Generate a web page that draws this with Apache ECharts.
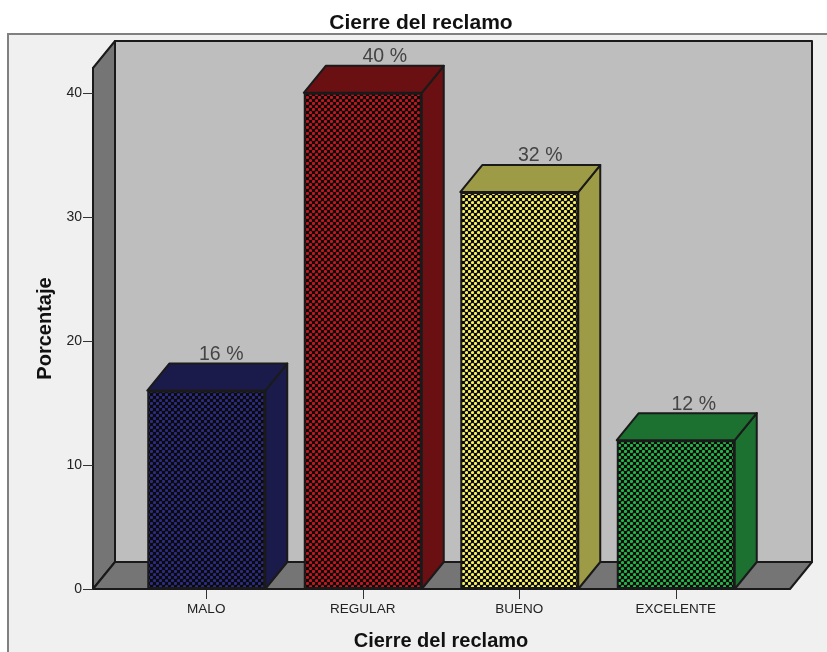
<!DOCTYPE html>
<html>
<head>
<meta charset="utf-8">
<style>html,body{margin:0;padding:0;background:#fff}#c{width:827px;height:652px}</style>
<script src="https://cdn.jsdelivr.net/npm/echarts@6/dist/echarts.min.js"></script>
</head>
<body>
<div id="c"></div>
<script>
const categories = ['MALO', 'REGULAR', 'BUENO', 'EXCELENTE'];
const percentages = [16, 40, 32, 12];
const yTicks = [0, 10, 20, 30, 40];
const dotColors = ['#2b2b85', '#c4161e', '#f8f058', '#24b548'];
const faceColors = ['#1a1a4b', '#6a0f12', '#9d9b46', '#1c7030'];

// Depth of the extruded scene, in pixels
const DX = 22, DY = -27, BAR_W = 118;
const LEFT = 93, RIGHT = 790, BASE = 589, TOP = 68;
const LINE = '#1a1a1a', WALL = '#bebebe', SIDE = '#757575';
const LABEL_SHIFT = [15, 22, 21, 18];

// Lattice of round dots on black, tiled over the front of each bar
function dotTile(color) {
  const s = 6, cv = document.createElement('canvas');
  cv.width = cv.height = s;
  const g = cv.getContext('2d');
  g.fillStyle = '#0a0a0a';
  g.fillRect(0, 0, s, s);
  g.fillStyle = color;
  [[1.5, 1.5], [4.5, 4.5]].forEach(([x, y]) => {
    g.beginPath();
    g.arc(x, y, 1.6, 0, Math.PI * 2);
    g.fill();
  });
  return { image: cv, repeat: 'repeat' };
}

const poly = (points, fill, z) => ({
  type: 'polygon', z,
  shape: { points },
  style: { fill, stroke: LINE, lineWidth: 2, lineJoin: 'round' }
});

const chart = echarts.init(document.getElementById('c'), null, { renderer: 'canvas' });
chart.setOption({
  animation: false,
  backgroundColor: '#ffffff',
  title: {
    text: 'Cierre del reclamo', left: 416, top: 8, textAlign: 'center',
    textStyle: { fontFamily: 'Liberation Sans', fontSize: 21, fontWeight: 'bold', color: '#111' }
  },
  grid: { left: 128, right: 73, top: TOP, bottom: 652 - BASE, outerBoundsMode: 'none' },
  graphic: [
    { type: 'rect', z: -5, shape: { x: 8, y: 34, width: 830, height: 630 },
      style: { fill: '#f0f0f0', stroke: '#808080', lineWidth: 2 } },
    poly([[LEFT + DX, TOP + DY], [RIGHT + DX, TOP + DY], [RIGHT + DX, BASE + DY], [LEFT + DX, BASE + DY]], WALL, -4),
    poly([[LEFT, TOP], [LEFT + DX, TOP + DY], [LEFT + DX, BASE + DY], [LEFT, BASE]], SIDE, -3),
    poly([[LEFT, BASE], [LEFT + DX, BASE + DY], [RIGHT + DX, BASE + DY], [RIGHT, BASE]], SIDE, -3)
  ],
  xAxis: {
    type: 'category', data: categories,
    axisLine: { show: false },
    axisTick: { show: true, alignWithLabel: true, length: 10, lineStyle: { color: '#333', width: 1 } },
    axisLabel: { fontFamily: 'Liberation Sans', fontSize: 13.5, color: '#222', margin: 13 },
    name: 'Cierre del reclamo', nameLocation: 'middle', nameGap: 42,
    nameTextStyle: { fontFamily: 'Liberation Sans', fontSize: 20, fontWeight: 'bold', color: '#111' }
  },
  yAxis: {
    type: 'value', min: 0, max: 42, interval: 10, offset: 35,
    axisLine: { show: true, lineStyle: { color: LINE, width: 2 } },
    axisTick: { show: true, length: 10, customValues: yTicks, lineStyle: { color: '#333', width: 1 } },
    axisLabel: { fontFamily: 'Liberation Sans', fontSize: 14, color: '#222', margin: 11, customValues: yTicks },
    splitLine: { show: false },
    name: 'Porcentaje', nameLocation: 'middle', nameGap: 38,
    nameTextStyle: { fontFamily: 'Liberation Sans', fontSize: 20, fontWeight: 'bold', color: '#111' }
  },
  series: [
    {
      // Top and right faces of each bar
      type: 'custom', z: 2, clip: false, silent: true,
      data: percentages.map((v, i) => [i, v]),
      encode: { x: 0, y: 1 },
      renderItem(params, api) {
        const i = api.value(0);
        const [cx, top] = api.coord([i, api.value(1)]);
        const [, base] = api.coord([i, 0]);
        const l = cx - BAR_W / 2, r = cx + BAR_W / 2, c = faceColors[i];
        return {
          type: 'group',
          children: [
            poly([[r, top], [r + DX, top + DY], [r + DX, base + DY], [r, base]], c),
            poly([[l, top], [l + DX, top + DY], [r + DX, top + DY], [r, top]], c)
          ]
        };
      }
    },
    {
      type: 'bar', z: 3, barWidth: BAR_W,
      data: percentages.map((v, i) => ({
        value: v,
        itemStyle: { color: dotTile(dotColors[i]), borderColor: LINE, borderWidth: 2 },
        label: { offset: [LABEL_SHIFT[i], DY + 6] }
      })),
      label: {
        show: true, position: 'top',
        formatter: p => p.value + ' %',
        fontFamily: 'Liberation Sans', fontSize: 19.5, color: '#444'
      }
    },
    {
      // Baseline across the floor, in front of the wall panels
      type: 'line', z: 4, silent: true, symbol: 'none', data: [],
      markLine: {
        silent: true, symbol: 'none', label: { show: false },
        lineStyle: { color: LINE, width: 2, type: 'solid' },
        data: [[{ x: LEFT, y: BASE }, { x: RIGHT, y: BASE }]]
      }
    }
  ]
});
</script>
</body>
</html>
